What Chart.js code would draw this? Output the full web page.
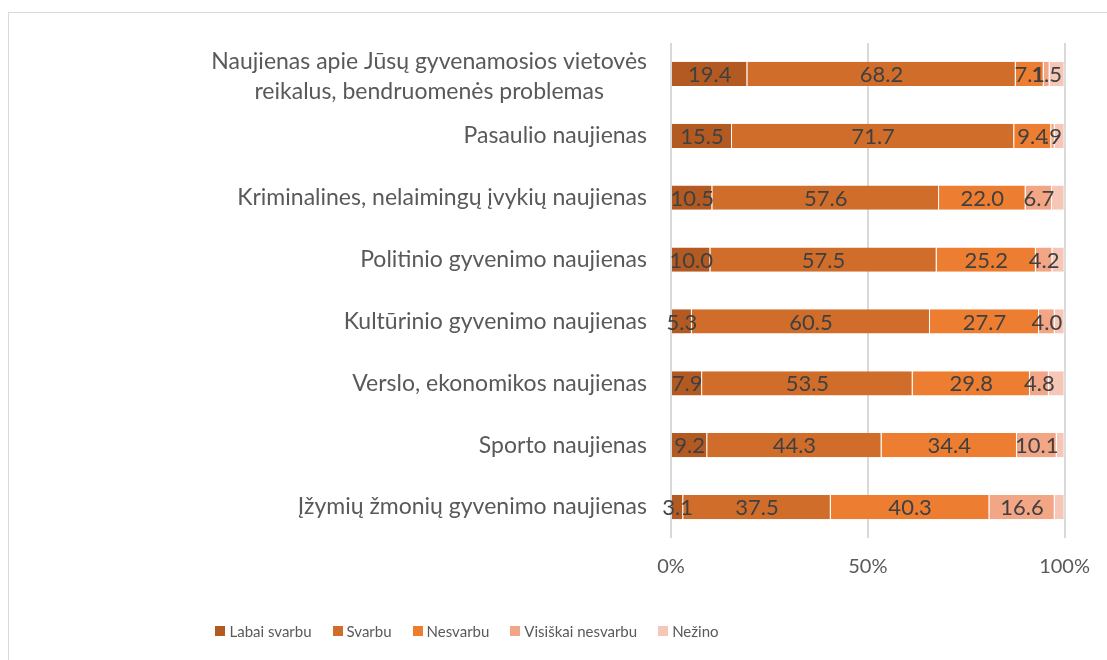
<!DOCTYPE html>
<html>
<head>
    <meta charset="utf-8">
    <title>Naujienų svarba</title>
    <script src="https://cdn.jsdelivr.net/npm/chart.js"></script>
    <style>
        html, body { margin: 0; background: #fff; overflow: hidden; }
        #frame { position: absolute; left: 8px; top: 12px; width: 1200px; height: 700px; border: 1px solid #d9d9d9; }
        #chart { position: absolute; left: 0; top: 0; }
    </style>
</head>
<body>
    <div id="frame"></div>
    <canvas id="chart" width="1107" height="660"></canvas>

    <script>
        const categories = [
            ['Naujienas apie Jūsų gyvenamosios vietovės', 'reikalus, bendruomenės problemas'],
            'Pasaulio naujienas',
            'Kriminalines, nelaimingų įvykių naujienas',
            'Politinio gyvenimo naujienas',
            'Kultūrinio gyvenimo naujienas',
            'Verslo, ekonomikos naujienas',
            'Sporto naujienas',
            'Įžymių žmonių gyvenimo naujienas'
        ];
        const seriesNames = ['Labai svarbu', 'Svarbu', 'Nesvarbu', 'Visiškai nesvarbu', 'Nežino'];
        const labaiSvarbu = [19.4, 15.5, 10.5, 10.0, 5.3, 7.9, 9.2, 3.1];
        const svarbu = [68.2, 71.7, 57.6, 57.5, 60.5, 53.5, 44.3, 37.5];
        const nesvarbu = [7.1, 9.4, 22.0, 25.2, 27.7, 29.8, 34.4, 40.3];
        const visiskaiNesvarbu = [1.5, 0.9, 6.7, 4.2, 4.0, 4.8, 10.1, 16.6];
        const nezino = [3.8, 2.5, 3.2, 3.1, 2.5, 4.0, 2.0, 2.5];
        const xTicks = [0, 50, 100];

        const colors = ['#b25a22', '#d16d2b', '#ed7d31', '#f2a686', '#f6c7b6'];
        const textColor = '#595959';

        // pavadinimai kairėje: blokas lygiuojamas dešinėn, eilutės centruojamos
        const categoryLabels = {
            id: 'categoryLabels',
            afterDraw(chart) {
                const ctx = chart.ctx;
                const yScale = chart.scales.y;
                const right = chart.chartArea.left - 24;
                ctx.save();
                ctx.font = '23px Lato';
                ctx.fillStyle = textColor;
                ctx.textAlign = 'center';
                ctx.textBaseline = 'middle';
                categories.forEach((label, i) => {
                    const cy = yScale.getPixelForTick(i);
                    const lines = Array.isArray(label) ? label : [label];
                    const w = Math.max(...lines.map(l => ctx.measureText(l).width));
                    const lh = 30;
                    const shift = lines.length > 1 ? 3 : 0;
                    lines.forEach((line, j) => {
                        ctx.fillText(line, right - w / 2, cy + (j - (lines.length - 1) / 2) * lh + shift);
                    });
                });
                ctx.restore();
            }
        };

        // formatas kaip Excel "#.0": 0.9 -> ".9"
        const fmt = v => v.toFixed(1).replace(/^0\./, '.');

        // reikšmės segmentų viduryje (Nežino be etikečių)
        const valueLabels = {
            id: 'valueLabels',
            afterDatasetsDraw(chart) {
                const ctx = chart.ctx;
                ctx.save();
                ctx.font = '22px Lato';
                ctx.fillStyle = '#404040';
                ctx.textAlign = 'center';
                ctx.textBaseline = 'middle';
                chart.data.datasets.forEach((ds, di) => {
                    if (di === 4) return;
                    chart.getDatasetMeta(di).data.forEach((bar, i) => {
                        ctx.fillText(fmt(ds.data[i]), (bar.x + bar.base) / 2, bar.y + 1);
                    });
                });
                ctx.restore();
            }
        };

        const bottomLegend = {
            id: 'bottomLegend',
            afterDraw(chart) {
                const ctx = chart.ctx;
                ctx.save();
                ctx.font = '15px Lato';
                ctx.textAlign = 'left';
                ctx.textBaseline = 'middle';
                const box = 10, gap = 4, space = 21, cy = 631, center = 467;
                const widths = chart.data.datasets.map(ds => box + gap + ctx.measureText(ds.label).width);
                const total = widths.reduce((a, b) => a + b, 0) + space * (widths.length - 1);
                let x = center - total / 2;
                chart.data.datasets.forEach((ds, i) => {
                    ctx.fillStyle = ds.backgroundColor;
                    ctx.fillRect(Math.round(x), cy - box / 2, box, box);
                    ctx.fillStyle = textColor;
                    ctx.fillText(ds.label, x + box + gap, cy + 1);
                    x += widths[i] + space;
                });
                ctx.restore();
            }
        };

        const series = [labaiSvarbu, svarbu, nesvarbu, visiskaiNesvarbu, nezino];

        new Chart(document.getElementById('chart'), {
            type: 'bar',
            data: {
                labels: categories,
                datasets: series.map((values, i) => ({
                    label: seriesNames[i],
                    data: values,
                    backgroundColor: colors[i],
                    borderColor: 'rgba(255,255,255,0.55)',
                    borderWidth: { top: 0, bottom: 0, left: 0, right: 1 },
                    borderSkipped: false,
                    barPercentage: 0.39,
                    categoryPercentage: 1
                }))
            },
            options: {
                indexAxis: 'y',
                responsive: false,
                animation: false,
                layout: { padding: { top: 43, right: 39, left: 0, bottom: 0 } },
                plugins: {
                    legend: { display: false },
                    tooltip: { enabled: false }
                },
                scales: {
                    x: {
                        stacked: true,
                        min: 0,
                        max: 100,
                        afterBuildTicks: s => { s.ticks = xTicks.map(v => ({ value: v })); },
                        afterFit: s => { s.height = 122; },
                        grid: { color: '#d9d9d9', lineWidth: 2, drawTicks: false },
                        border: { display: false },
                        ticks: {
                            padding: 17,
                            color: textColor,
                            font: { family: 'Lato', size: 20 },
                            callback: v => v + '%'
                        }
                    },
                    y: {
                        stacked: true,
                        ticks: { display: false },
                        grid: { display: false },
                        border: { display: false },
                        afterFit: s => { s.width = 671; }
                    }
                }
            },
            plugins: [categoryLabels, valueLabels, bottomLegend]
        });
    </script>
</body>
</html>
